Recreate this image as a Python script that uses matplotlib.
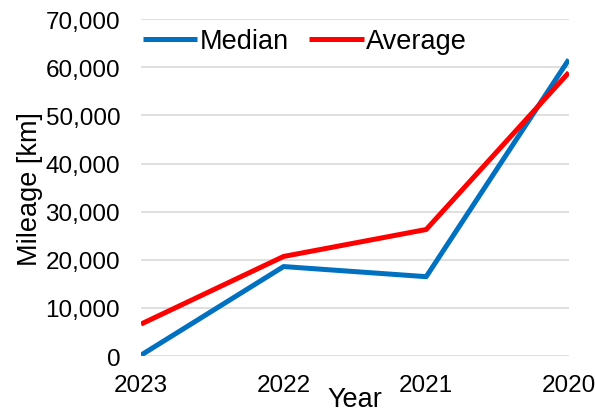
import matplotlib.pyplot as plt
from matplotlib.ticker import FuncFormatter

plt.rcParams['font.family'] = ['Liberation Sans', 'DejaVu Sans']

years = ['2023', '2022', '2021', '2020']
median_km = [200, 18600, 16500, 61600]
average_km = [6650, 20700, 26300, 58900]

fig = plt.figure(figsize=(5.95, 4.1), dpi=100)
ax = fig.add_axes([0.237, 0.129, 0.719, 0.822])

x = range(len(years))
ax.plot(x, median_km, color='#0070C0', lw=3.6, label='Median', solid_capstyle='butt', zorder=3)
ax.plot(x, average_km, color='#FF0000', lw=3.6, label='Average', solid_capstyle='butt', zorder=3)

ax.set_xlim(0, len(years) - 1)
ax.set_ylim(0, 70000)
ax.set_yticks(range(0, 70001, 10000))
ax.yaxis.set_major_formatter(FuncFormatter(lambda v, p: f'{int(v):,}'))
ax.set_xticks(list(x))
ax.set_xticklabels(years)

ax.grid(axis='y', color='#D9D9D9', lw=1.2, zorder=0)
for s in ax.spines.values():
    s.set_visible(False)
ax.tick_params(axis='both', length=0, labelsize=17.5, colors='black')
ax.tick_params(axis='y', pad=15)
ax.tick_params(axis='x', pad=13)

ax.set_xlabel('Year', fontsize=19.5, labelpad=-7)
ax.set_ylabel('Mileage [km]', fontsize=19.5, labelpad=2)

ax.legend(loc='center left', bbox_to_anchor=(0.005, 0.935), ncol=2, frameon=False,
          fontsize=19.5, handlelength=2.0, handletextpad=0.1, columnspacing=0.75,
          borderaxespad=0, borderpad=0)

fig.savefig('out.png', dpi=100)
